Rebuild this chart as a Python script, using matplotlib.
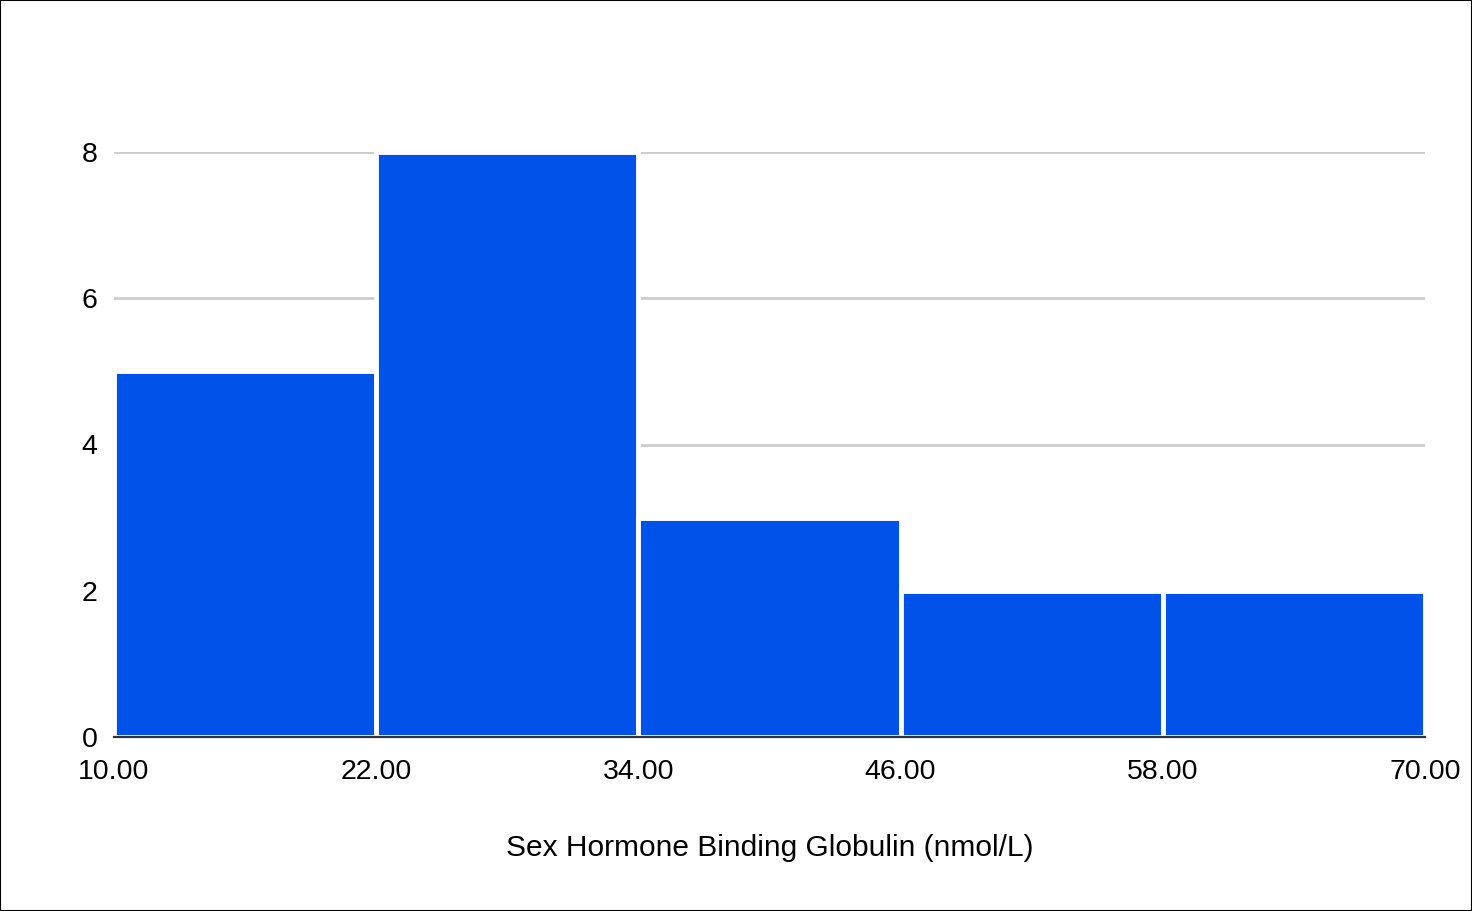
import matplotlib

matplotlib.use("Agg")
import matplotlib.pyplot as plt
from matplotlib.patches import Rectangle

plt.rcParams["font.family"] = ["Liberation Sans", "DejaVu Sans"]

BLUE = "#0052E8"
GRID = "#CCCCCC"

bin_edges = [10.0, 22.0, 34.0, 46.0, 58.0, 70.0]
counts = [5, 8, 3, 2, 2]
y_ticks = [0, 2, 4, 6, 8]
x_label = "Sex Hormone Binding Globulin (nmol/L)"

fig = plt.figure(figsize=(14.72, 9.11), dpi=100, facecolor="white")
ax = fig.add_axes([114 / 1472, 174 / 911, (1425 - 114) / 1472, (737 - 152) / 911])

lefts = bin_edges[:-1]
widths = [b - a for a, b in zip(bin_edges[:-1], bin_edges[1:])]
ax.bar(lefts, counts, width=widths, align="edge", color=BLUE,
       edgecolor="white", linewidth=3.5, zorder=3)

ax.set_xlim(bin_edges[0], bin_edges[-1])
ax.set_ylim(0, 8)
ax.set_xticks(bin_edges)
ax.set_xticklabels([f"{v:.2f}" for v in bin_edges])
ax.set_yticks(y_ticks)
ax.yaxis.grid(True, color=GRID, lw=2, zorder=0)
ax.set_axisbelow(True)
for s in ("top", "right", "left"):
    ax.spines[s].set_visible(False)
ax.spines["bottom"].set_color("#333333")
ax.spines["bottom"].set_linewidth(1.6)
ax.spines["bottom"].set_zorder(4)
ax.tick_params(axis="both", length=0, labelsize=20.5, colors="#000000")
ax.tick_params(axis="x", pad=16)
ax.tick_params(axis="y", pad=12)
ax.set_xlabel(x_label, fontsize=21.5, labelpad=35)

fig.add_artist(Rectangle((0, 0), 1, 1, transform=fig.transFigure,
                         fill=False, edgecolor="black", lw=1.5))

fig.savefig("out.png", dpi=100, facecolor="white")
